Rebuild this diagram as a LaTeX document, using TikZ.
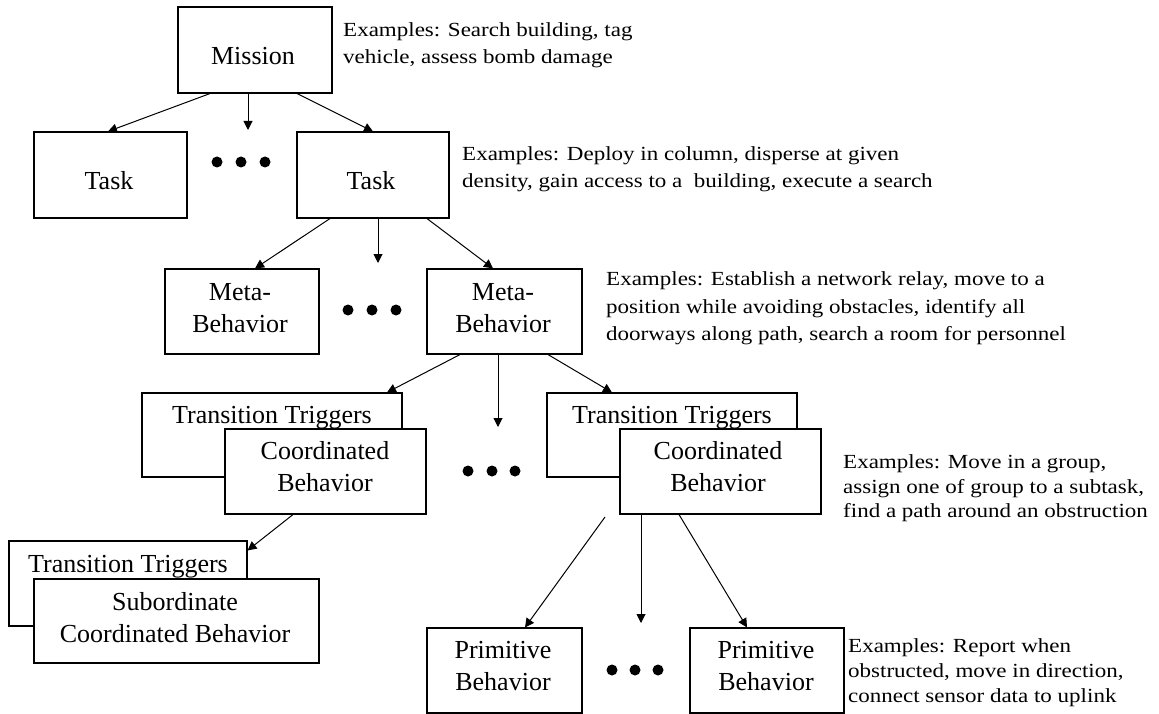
\documentclass[tikz,border=0pt]{standalone}
\usepackage{fontspec}
\setmainfont{Liberation Serif}
\newfontfamily\exfont[FakeStretch=1.15]{Liberation Serif}
\usetikzlibrary{arrows.meta,calc}
\begin{document}
\begin{tikzpicture}[x=1pt,y=-1pt,
  box/.style={draw, line width=1.1pt, fill=white, inner sep=0pt},
  lbl/.style={anchor=base, inner sep=0pt, font=\fontsize{26}{31}\selectfont},
  ex/.style={anchor=base west, inner sep=0pt, font=\exfont\fontsize{20}{26}\selectfont},
  dotn/.style={circle, fill=black, inner sep=0pt, minimum size=11pt},
  arr/.style={-{Triangle[length=9pt,width=9pt]}, line width=1pt}]
\useasboundingbox (0,0) rectangle (1159,714);

% boxes
\node[box, minimum width=154pt, minimum height=86pt] (mission) at (255,50) {};
\node[box, minimum width=153pt, minimum height=86pt] (taskL) at (110.5,175) {};
\node[box, minimum width=152pt, minimum height=86pt] (taskR) at (373,175) {};
\node[box, minimum width=154pt, minimum height=85pt] (metaL) at (242,311.5) {};
\node[box, minimum width=155pt, minimum height=85pt] (metaR) at (504.5,311.5) {};
\node[box, minimum width=260pt, minimum height=84pt] (ttL) at (272,435) {};
\node[box, minimum width=201pt, minimum height=85pt] (coordL) at (325.5,471.5) {};
\node[box, minimum width=250pt, minimum height=84pt] (ttR) at (672,435) {};
\node[box, minimum width=201pt, minimum height=85pt] (coordR) at (720.5,471.5) {};
\node[box, minimum width=238pt, minimum height=85pt] (tt2) at (128,583.5) {};
\node[box, minimum width=285pt, minimum height=84pt] (sub) at (176.5,621) {};
\node[box, minimum width=155pt, minimum height=85pt] (primL) at (504.5,670.5) {};
\node[box, minimum width=154pt, minimum height=85pt] (primR) at (767,670.5) {};

% box labels
\node[lbl] (missiont) at (253,65) {Mission};
\node[lbl] (taskLt) at (109,190) {Task};
\node[lbl] (taskRt) at (371,190) {Task};
\node[lbl] (metaLt1) at (240,300) {Meta-};
\node[lbl] (metaLt2) at (240,332) {Behavior};
\node[lbl] (metaRt1) at (503,300) {Meta-};
\node[lbl] (metaRt2) at (503,332) {Behavior};
\node[lbl] (ttLt) at (272,423) {Transition Triggers};
\node[lbl] (coordLt1) at (325,459) {Coordinated};
\node[lbl] (coordLt2) at (325,491) {Behavior};
\node[lbl] (ttRt) at (672,423) {Transition Triggers};
\node[lbl] (coordRt1) at (718,459) {Coordinated};
\node[lbl] (coordRt2) at (718,491) {Behavior};
\node[lbl] (tt2t) at (128,572) {Transition Triggers};
\node[lbl] (subt1) at (175,610) {Subordinate};
\node[lbl] (subt2) at (175,642) {Coordinated Behavior};
\node[lbl] (primLt1) at (503,658) {Primitive};
\node[lbl] (primLt2) at (503,690) {Behavior};
\node[lbl] (primRt1) at (766,658) {Primitive};
\node[lbl] (primRt2) at (766,690) {Behavior};

% examples
\node[ex] (exm1) at (343,37) {Examples: Search building, tag};
\node[ex] (exm2) at (343,64) {vehicle, assess bomb damage};
\node[ex] (ext1) at (462,161) {Examples: Deploy in column, disperse at given};
\node[ex] (ext2) at (462,188) {density, gain access to a\ \ building, execute a search};
\node[ex] (exb1) at (606,285) {Examples: Establish a network relay, move to a};
\node[ex] (exb2) at (606,313) {position while avoiding obstacles, identify all};
\node[ex] (exb3) at (606,340) {doorways along path, search a room for personnel};
\node[ex] (exc1) at (843,468) {Examples: Move in a group,};
\node[ex] (exc2) at (843,493) {assign one of group to a subtask,};
\node[ex] (exc3) at (843,517) {find a path around an obstruction};
\node[ex] (exp1) at (848,652) {Examples: Report when};
\node[ex] (exp2) at (848,677) {obstructed, move in direction,};
\node[ex] (exp3) at (848,702) {connect sensor data to uplink};

% dots
\foreach \n/\x/\y in {d1a/217/162, d1b/241/162, d1c/265/162,
                      d2a/348/310, d2b/372/310, d2c/396/310,
                      d3a/468/471, d3b/492/471, d3c/515/471,
                      d4a/612/670, d4b/635/670, d4c/658/670}
  \node[dotn] (\n) at (\x,\y) {};

% arrow ends pointing at the dots
\coordinate (a1) at (248,130);
\coordinate (a2) at (378,263);
\coordinate (a3) at (498,427);
\coordinate (a4) at (641,623);
\coordinate (s4) at (605,517);

% connectors
\draw[arr] ([xshift=-45pt]mission.south) -- ([xshift=-2.5pt]taskL.north);
\draw[arr] ([xshift=-7pt]mission.south) -- (a1);
\draw[arr] ([xshift=42pt]mission.south) -- (taskR.north);

\draw[arr] ([xshift=-43pt]taskR.south) -- ([xshift=13pt]metaL.north);
\draw[arr] ([xshift=5pt]taskR.south) -- (a2);
\draw[arr] ([xshift=54pt]taskR.south) -- ([xshift=-11.5pt]metaR.north);

\draw[arr] ([xshift=-44.5pt]metaR.south) -- ([xshift=115pt]ttL.north);
\draw[arr] ([xshift=-6.5pt]metaR.south) -- (a3);
\draw[arr] ([xshift=43.5pt]metaR.south) -- ([xshift=-60pt]ttR.north);

\draw[arr] ([xshift=-32.5pt]coordL.south) -- ([yshift=-10pt]tt2.north east);

\draw[arr] (s4) -- ([xshift=20.5pt]primL.north);
\draw[arr] ([xshift=-79.5pt]coordR.south) -- (a4);
\draw[arr] ([xshift=-41.5pt]coordR.south) -- ([xshift=-20pt]primR.north);
\end{tikzpicture}
\end{document}
